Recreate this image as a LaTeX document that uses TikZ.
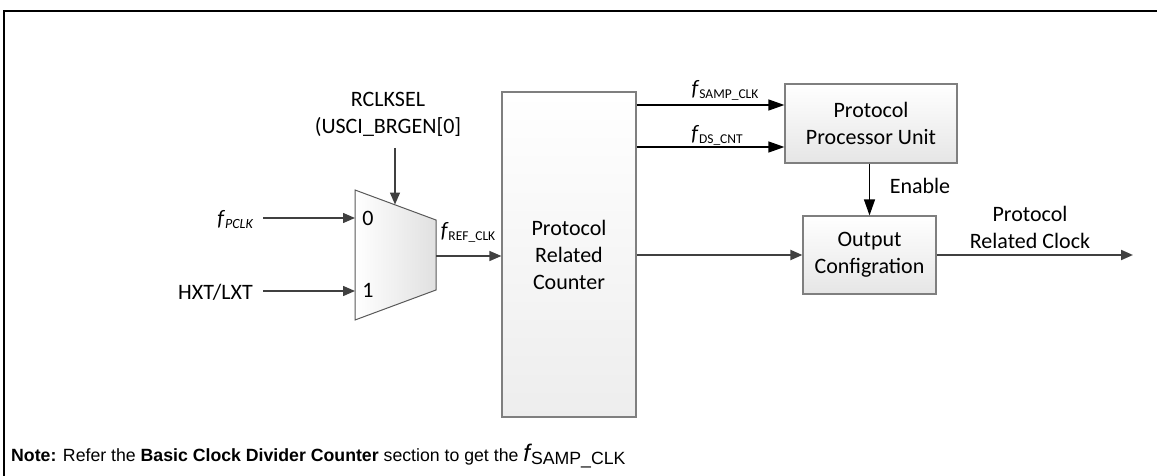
\documentclass[tikz,border=0pt]{standalone}
\usepackage{fontspec}
\setmainfont{Carlito}
\newfontfamily\notefont{Liberation Sans}
\usetikzlibrary{arrows.meta}
\definecolor{sigcol}{HTML}{404040}
\definecolor{boxline}{HTML}{7F7F7F}
\begin{document}
\begin{tikzpicture}[x=1pt,y=-1pt,
  txt/.style={font=\fontsize{22}{27}\selectfont, align=center, inner sep=0pt},
  sub/.style={font=\fontsize{22}{27}\selectfont, inner sep=0pt},
  blk/.style={draw=boxline, line width=1.2pt, top color=white, bottom color=black!10,
     font=\fontsize{22}{27}\selectfont, align=center, inner sep=0pt},
  sig/.style={draw=sigcol, line width=1.6pt, -{Triangle[length=12pt,width=10pt]}},
  bsig/.style={draw=black, line width=1.3pt, -{Triangle[length=16pt,width=11pt]}}
]
\useasboundingbox (0,0) rectangle (1157,476);
% frame
\draw[line width=2pt] (4,476) -- (4,11) -- (1157,11);

% mux
\coordinate (mtl) at (355,190);
\coordinate (mtr) at (436,220);
\coordinate (mbr) at (436,290);
\coordinate (mbl) at (355,320);
\shade[left color=white, right color=black!12] (mtl) -- (mtr) -- (mbr) -- (mbl) -- cycle;
\draw[draw=black!65, line width=1pt] (mtl) -- (mtr) -- (mbr) -- (mbl) -- cycle;
\coordinate (min0) at (355,218);
\coordinate (min1) at (355,291);
\coordinate (mout) at (436,256);
\coordinate (msel) at (395,204.5);
\node[txt] at (368,218) {0};
\node[txt] at (368,290) {1};

% inputs
\node[txt, anchor=east] (pclk) at (263,220) {\itshape f\kern1pt\raisebox{-3pt}{\fontsize{14}{14}\selectfont PCLK}\kern10pt};
\node[txt, anchor=east] (hxt) at (263,292) {HXT/LXT\kern10pt};
\draw[sig, line width=1.4pt] (pclk.east |- min0) -- (min0);
\draw[sig, line width=1.4pt] (hxt.east |- min1) -- (min1);

\node[txt] (rclk) at (388,114) {RCLKSEL\\(USCI\_BRGEN[0]};
\coordinate (selin) at (395,148);
\draw[sig, line width=1.4pt] (selin) -- (msel);

% counter
\node[blk, minimum width=134pt, minimum height=325pt, top color=white, bottom color=black!7] (cnt) at (569,254.5) {Protocol\\Related\\Counter};
\node[txt] (fref) at (468,232) {\itshape f\kern1pt\upshape\raisebox{-3pt}{\fontsize{13.5}{14}\selectfont REF\_CLK}};
\draw[sig, line width=1.4pt] (mout) -- (mout -| cnt.west);

% PPU
\node[blk, minimum width=172pt, minimum height=79pt] (ppu) at (871,123.5) {Protocol\\Processor Unit};
\draw[bsig] (cnt.east |- 0,105) -- (ppu.west |- 0,105);
\draw[bsig] (cnt.east |- 0,147) -- (ppu.west |- 0,147);
\node[txt] (fsamp) at (725,90) {\itshape f\kern1pt\upshape\raisebox{-3pt}{\fontsize{13.5}{14}\selectfont SAMP\_CLK}};
\node[txt] (fds) at (717,135) {\itshape f\kern1pt\upshape\raisebox{-3pt}{\fontsize{13.5}{14}\selectfont DS\_CNT}};

% output config
\node[blk, minimum width=133pt, minimum height=78pt] (oc) at (869.5,255) {Output\\Configration};
\draw[bsig] (oc.north |- ppu.south) -- (oc.north);
\node[txt] (en) at (920,186) {Enable};
\draw[sig, line width=2pt] (cnt.east |- oc.west) -- (oc.west);
\coordinate (outend) at (1133,255);
\draw[sig, line width=2pt] (oc.east) -- (outend);
\node[txt] (prc) at (1030,227) {Protocol\\Related Clock};

% note
\node[anchor=base west, inner sep=0pt, font=\notefont\fontsize{17.7}{20}\selectfont] (note) at (11,461.7)
  {\textbf{Note:} Refer the \textbf{Basic Clock Divider Counter} section to get the {\fontsize{24}{24}\selectfont\itshape f}\kern1pt\raisebox{-2.5pt}{SAMP\_CLK}};
\end{tikzpicture}
\end{document}
